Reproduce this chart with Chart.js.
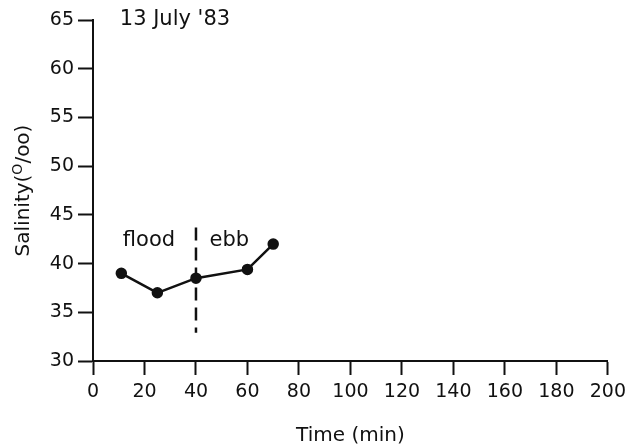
<!DOCTYPE html>
<html>
<head>
<meta charset="utf-8">
<script src="https://cdn.jsdelivr.net/npm/chart.js@4"></script>
<style>
  html, body { margin: 0; padding: 0; background: #fff; }
  #wrap { width: 632px; height: 448px; }
</style>
</head>
<body>
<div id="wrap"><canvas id="sal"></canvas></div>
<script>
/* Salinity vs time, single tidal station — flood/ebb split at 40 min. */
const timeMin = [11, 25, 40, 60, 70];
const salinity = [39.0, 37.0, 38.5, 39.4, 42.0];
const tideTurnX = [40, 40];
const tideTurnY = [43.7, 32.9];
const xTicks = [0, 20, 40, 60, 80, 100, 120, 140, 160, 180, 200];
const yTicks = [30, 35, 40, 45, 50, 55, 60, 65];

const INK = "#111";
const FONT = "'DejaVu Sans', sans-serif";

// free text placed in data units
const notes = [
  { text: "13 July '83", x: 10.4, y: 65, size: 21 },
  { text: "flood", x: 11.6, y: 42.4, size: 21 },
  { text: "ebb", x: 45.3, y: 42.4, size: 21 },
];

const textPlugin = {
  id: "texts",
  afterDraw(chart) {
    const { ctx, chartArea: a, scales: { x, y } } = chart;
    ctx.save();
    ctx.fillStyle = INK;
    ctx.textBaseline = "middle";
    ctx.textAlign = "left";
    notes.forEach((n) => {
      ctx.font = n.size + "px " + FONT;
      ctx.fillText(n.text, x.getPixelForValue(n.x), y.getPixelForValue(n.y));
    });

    // x axis title
    ctx.font = "20px " + FONT;
    ctx.textAlign = "center";
    ctx.textBaseline = "alphabetic";
    ctx.fillText("Time (min)", (a.left + a.right) / 2, 441);

    // y axis title with raised O
    ctx.translate(29, (a.top + a.bottom) / 2);
    ctx.rotate(-Math.PI / 2);
    const p1 = "Salinity(", sup = "O", p2 = "/oo)";
    ctx.font = "20px " + FONT;
    const w1 = ctx.measureText(p1).width, w3 = ctx.measureText(p2).width;
    ctx.font = "14px " + FONT;
    const w2 = ctx.measureText(sup).width;
    let cx = -(w1 + w2 + w3) / 2;
    ctx.textAlign = "left";
    ctx.font = "20px " + FONT;
    ctx.fillText(p1, cx, 0); cx += w1;
    ctx.font = "14px " + FONT;
    ctx.fillText(sup, cx, -7); cx += w2;
    ctx.font = "20px " + FONT;
    ctx.fillText(p2, cx, 0);
    ctx.restore();
  },
};

new Chart(document.getElementById("sal"), {
  type: "scatter",
  data: {
    datasets: [
      {
        data: timeMin.map((t, i) => ({ x: t, y: salinity[i] })),
        showLine: true, borderColor: INK, borderWidth: 2.5,
        pointRadius: 4.5, pointBackgroundColor: INK, pointBorderColor: INK,
      },
      {
        data: tideTurnX.map((t, i) => ({ x: t, y: tideTurnY[i] })),
        showLine: true, borderColor: INK, borderWidth: 2.5, borderDash: [13, 7],
        pointRadius: 0,
      },
    ],
  },
  options: {
    responsive: true, maintainAspectRatio: false, animation: false,
    layout: { padding: { top: 20, right: 22, left: 0, bottom: 0 } },
    plugins: { legend: { display: false }, tooltip: { enabled: false } },
    scales: {
      x: {
        type: "linear", min: 0, max: 200,
        afterBuildTicks: (s) => { s.ticks = xTicks.map((v) => ({ value: v })); },
        afterFit: (s) => { s.height = 87; },
        grid: { drawOnChartArea: false, tickLength: 14, tickWidth: 2, color: INK },
        border: { width: 2, color: INK },
        ticks: { color: INK, font: { family: FONT, size: 19 }, padding: 6, maxRotation: 0 },
      },
      y: {
        type: "linear", min: 30, max: 65,
        afterBuildTicks: (s) => { s.ticks = yTicks.map((v) => ({ value: v })); },
        afterFit: (s) => { s.width = 93; },
        grid: { drawOnChartArea: false, tickLength: 15, tickWidth: 2, color: INK },
        border: { width: 2, color: INK },
        ticks: { color: INK, font: { family: FONT, size: 19 }, padding: 4 },
      },
    },
  },
  plugins: [textPlugin],
});
</script>
</body>
</html>
